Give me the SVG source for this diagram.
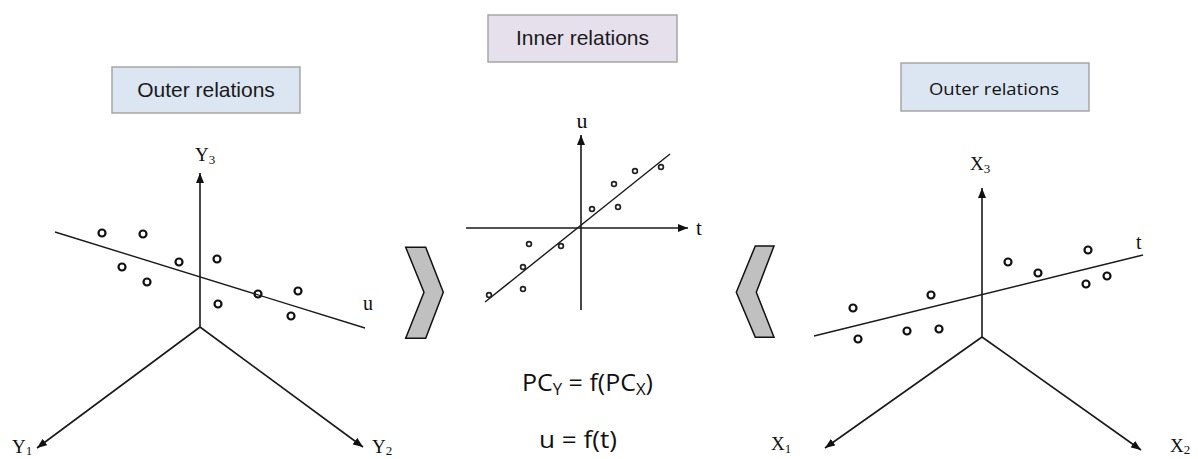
<svg xmlns="http://www.w3.org/2000/svg" width="1198" height="459" viewBox="0 0 1198 459">
<style>
.ax{stroke:#1a1a1a;stroke-width:1.6;fill:none}
.fit{stroke:#1a1a1a;stroke-width:1.4;fill:none}
.pt{fill:none;stroke:#111;stroke-width:2.2}
.ps{fill:none;stroke:#222;stroke-width:1.7}
.box{stroke:#a6a6a6;stroke-width:1.5}
.tm{font-family:"Liberation Serif","Times New Roman",serif;fill:#111}
.ar{font-family:"Liberation Sans",Arial,sans-serif;fill:#1a1a1a}
.cb{font-family:"Open Sans","Noto Sans",sans-serif;fill:#111}
.chev{fill:#c0c0c0;stroke:#111;stroke-width:1.5;stroke-linejoin:miter}
</style>
<defs>
<marker id="ah" markerUnits="userSpaceOnUse" markerWidth="11" markerHeight="8" refX="10" refY="4" orient="auto">
<path d="M0,0 L10,4 L0,8 z" fill="#111"/>
</marker>
</defs>
<rect width="1198" height="459" fill="#fff"/>

<g id="label-outer-left">
<rect class="box" x="112" y="67" width="188" height="46" fill="#dce6f2"/>
<text class="ar" x="206" y="97" font-size="21" text-anchor="middle">Outer relations</text>
</g>
<g id="label-inner">
<rect class="box" x="488" y="15" width="189" height="47" fill="#e5e0ec"/>
<text class="ar" x="582.5" y="45" font-size="21" text-anchor="middle">Inner relations</text>
</g>
<g id="label-outer-right">
<rect class="box" x="901" y="63" width="188" height="48" fill="#dce6f2"/>
<text class="cb" x="994" y="95" font-size="17" text-anchor="middle" textLength="130" lengthAdjust="spacingAndGlyphs">Outer relations</text>
</g>

<g id="connectors">
<line class="ax" x1="200" y1="327" x2="200" y2="173" marker-end="url(#ah)"/>
<line class="ax" x1="200" y1="327" x2="37" y2="448" marker-end="url(#ah)"/>
<line class="ax" x1="200" y1="327" x2="363" y2="447" marker-end="url(#ah)"/>
<line class="fit" x1="55" y1="232" x2="365" y2="328"/>
<line class="ax" x1="581" y1="310" x2="581" y2="135" marker-end="url(#ah)"/>
<line class="ax" x1="466" y1="228" x2="688" y2="228" marker-end="url(#ah)"/>
<line class="fit" x1="485" y1="302" x2="670" y2="154"/>
<line class="ax" x1="982" y1="337" x2="982" y2="188" marker-end="url(#ah)"/>
<line class="ax" x1="982" y1="337" x2="825" y2="448" marker-end="url(#ah)"/>
<line class="ax" x1="982" y1="337" x2="1141" y2="450" marker-end="url(#ah)"/>
<line class="fit" x1="814" y1="336" x2="1143" y2="255"/>
</g>

<g id="y-space">
<circle class="pt" cx="102" cy="233" r="3.5"/>
<circle class="pt" cx="143" cy="234" r="3.5"/>
<circle class="pt" cx="122" cy="267" r="3.5"/>
<circle class="pt" cx="147" cy="282" r="3.5"/>
<circle class="pt" cx="179" cy="262" r="3.5"/>
<circle class="pt" cx="217" cy="259" r="3.5"/>
<circle class="pt" cx="218" cy="304" r="3.5"/>
<circle class="pt" cx="258" cy="294" r="3.5"/>
<circle class="pt" cx="298" cy="291" r="3.5"/>
<circle class="pt" cx="291" cy="316" r="3.5"/>
<text class="tm" x="195" y="161" font-size="19">Y<tspan font-size="13" dy="3">3</tspan></text>
<text class="tm" x="12" y="453" font-size="19">Y<tspan font-size="13" dy="2">1</tspan></text>
<text class="tm" x="372" y="453" font-size="19">Y<tspan font-size="13" dy="2">2</tspan></text>
<text class="tm" x="363" y="310" font-size="20">u</text>
</g>

<g id="inner-plot">
<circle class="ps" cx="489" cy="295" r="2.4"/>
<circle class="ps" cx="523" cy="289" r="2.4"/>
<circle class="ps" cx="523" cy="267" r="2.4"/>
<circle class="ps" cx="529" cy="244" r="2.4"/>
<circle class="ps" cx="561" cy="246" r="2.4"/>
<circle class="ps" cx="592" cy="209" r="2.4"/>
<circle class="ps" cx="618" cy="207" r="2.4"/>
<circle class="ps" cx="614" cy="184" r="2.4"/>
<circle class="ps" cx="635" cy="171" r="2.4"/>
<circle class="ps" cx="661" cy="167" r="2.4"/>
<text class="tm" x="582" y="128" font-size="22" text-anchor="middle">u</text>
<text class="tm" x="696" y="235" font-size="21">t</text>
</g>

<g id="x-space">
<circle class="pt" cx="853" cy="308" r="3.5"/>
<circle class="pt" cx="858" cy="339" r="3.5"/>
<circle class="pt" cx="907" cy="331" r="3.5"/>
<circle class="pt" cx="939" cy="329" r="3.5"/>
<circle class="pt" cx="931" cy="295" r="3.5"/>
<circle class="pt" cx="1008" cy="262" r="3.5"/>
<circle class="pt" cx="1038" cy="273" r="3.5"/>
<circle class="pt" cx="1088" cy="250" r="3.5"/>
<circle class="pt" cx="1086" cy="284" r="3.5"/>
<circle class="pt" cx="1107" cy="276" r="3.5"/>
<text class="tm" x="970" y="170" font-size="19">X<tspan font-size="13" dy="3">3</tspan></text>
<text class="tm" x="771" y="450" font-size="19">X<tspan font-size="13" dy="3">1</tspan></text>
<text class="tm" x="1170" y="452" font-size="19">X<tspan font-size="13" dy="2">2</tspan></text>
<text class="tm" x="1136" y="249" font-size="20">t</text>
</g>

<g id="chevron-right">
<polygon class="chev" points="405.7,247.3 425.7,247.3 443.3,292.3 425.7,338.3 405.7,338.3 424,292.3"/>
</g>
<g id="chevron-left">
<polygon class="chev" points="755.3,246 774,246 756.3,292.3 774,337.3 755.3,337.3 736.3,292.3"/>
</g>

<g id="equations">
<text class="cb" x="522" y="391" font-size="24" textLength="131" lengthAdjust="spacingAndGlyphs">PC<tspan font-size="16" dy="4">Y</tspan><tspan dy="-4"> = f(PC</tspan><tspan font-size="16" dy="4">X</tspan><tspan dy="-4">)</tspan></text>
<text class="cb" x="539" y="448" font-size="24" textLength="78" lengthAdjust="spacingAndGlyphs">u = f(t)</text>
</g>
</svg>
